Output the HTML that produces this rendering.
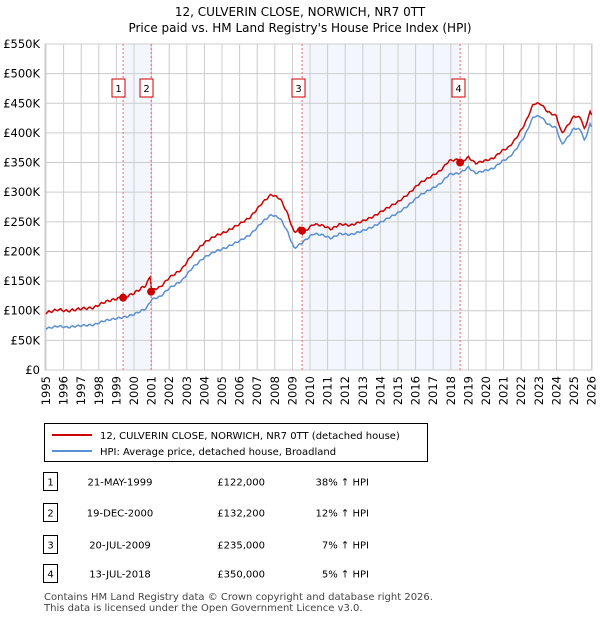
<!DOCTYPE html><html><head><style>
body{margin:0;background:#fff;font-family:"Liberation Sans","DejaVu Sans",sans-serif;}
</style></head><body>
<svg width="600" height="620" xmlns="http://www.w3.org/2000/svg" font-family="DejaVu Sans, Liberation Sans, sans-serif">
<text x="300" y="16" font-size="12" text-anchor="middle">12, CULVERIN CLOSE, NORWICH, NR7 0TT</text>
<text x="300" y="32" font-size="12" text-anchor="middle">Price paid vs. HM Land Registry's House Price Index (HPI)</text>
<g id="shade"></g>
<g id="grid" stroke="#ccc" stroke-width="1"></g>
<g id="labels" font-size="11.5"></g>
<g id="lines"></g>
<g id="legend">
<rect x="44.5" y="423.5" width="383" height="38" fill="#fff" stroke="#000"/>
<line x1="52" y1="435" x2="92" y2="435" stroke="#cc0000" stroke-width="2"/>
<text x="100" y="439" font-size="10">12, CULVERIN CLOSE, NORWICH, NR7 0TT (detached house)</text>
<line x1="52" y1="451" x2="92" y2="451" stroke="#5b8fd4" stroke-width="2"/>
<text x="100" y="455" font-size="10">HPI: Average price, detached house, Broadland</text>
</g>
<g font-size="10" id="table"></g>
<text x="44" y="600" font-size="10" fill="#444">Contains HM Land Registry data © Crown copyright and database right 2026.</text>
<text x="44" y="611" font-size="10" fill="#444">This data is licensed under the Open Government Licence v3.0.</text>
</svg>
<script>
const X0=46,PX=17.6,YB=370,PY=326/550;
const fx=y=>X0+(y-1995)*PX, fy=v=>YB-v*PY;
const ns="http://www.w3.org/2000/svg";
function el(p,t,a,txt){const e=document.createElementNS(ns,t);for(const k in a)e.setAttribute(k,a[k]);if(txt!=null)e.textContent=txt;document.getElementById(p).appendChild(e);return e;}
const sales=[[1999.38,122],[2000.97,132.2],[2009.55,235],[2018.53,350]];
el("shade","rect",{x:fx(sales[0][0]),y:44,width:fx(sales[1][0])-fx(sales[0][0]),height:326,fill:"#eef3fc",opacity:0.7});
el("shade","rect",{x:fx(sales[2][0]),y:44,width:fx(sales[3][0])-fx(sales[2][0]),height:326,fill:"#eef3fc",opacity:0.7});
for(let v=0;v<=550;v+=50){el("grid","line",{x1:45,x2:592,y1:fy(v),y2:fy(v)});
el("labels","text",{x:40,y:fy(v)+4,"text-anchor":"end"},v==0?"£0":"£"+v+"K");}
for(let y=1995;y<=2026;y++){el("grid","line",{x1:fx(y),x2:fx(y),y1:44,y2:370});
el("labels","text",{transform:`translate(${fx(y)+4},376) rotate(-90)`,"text-anchor":"end"},y);}
el("grid","rect",{x:45,y:44,width:547,height:326,fill:"none",stroke:"#ccc"});
const k=[[1995,70],[1995.7,74],[1996.2,72],[1997,75],[1997.7,76],[1998.3,83],[1999,87],[1999.6,90],[2000,94],[2000.7,104],[2001,119],[2001.5,124],[2002,138],[2002.7,150],[2003.3,172],[2004,190],[2004.6,200],[2005.2,206],[2006,218],[2006.6,228],[2007.3,250],[2007.8,262],[2008.3,256],[2008.7,235],[2009.1,205],[2009.6,216],[2010.2,230],[2010.7,228],[2011.2,222],[2011.7,230],[2012.3,228],[2013,235],[2013.6,242],[2014.3,254],[2015,265],[2015.6,278],[2016.2,294],[2016.8,304],[2017.4,314],[2017.9,330],[2018.5,332],[2019,342],[2019.4,332],[2019.9,336],[2020.4,340],[2020.9,352],[2021.3,358],[2021.7,372],[2022.2,395],[2022.7,428],[2023.1,428],[2023.5,415],[2024,408],[2024.3,380],[2024.7,395],[2025,408],[2025.4,405],[2025.6,385],[2025.9,415],[2026,410]];
function interp(t){for(let i=0;i<k.length-1;i++)if(t<=k[i+1][0]){const a=k[i],b=k[i+1],r=(t-a[0])/(b[0]-a[0]);return a[1]+r*(b[1]-a[1]);}return k[k.length-1][1];}
let hp="",rp="";
for(let t=1995;t<=2026.001;t+=1/12){let v=interp(t)+Math.sin(t*19)*1.5;
let f=t<sales[1][0]?1.38:t<sales[2][0]?1.13:t<sales[3][0]?1.07:1.05;
hp+=(hp?"L":"M")+fx(t).toFixed(1)+","+fy(v).toFixed(1);
rp+=(rp?"L":"M")+fx(t).toFixed(1)+","+fy(v*f).toFixed(1);}
el("lines","path",{d:hp,fill:"none",stroke:"#5b8fd4","stroke-width":1.5});
el("lines","path",{d:rp,fill:"none",stroke:"#cc0000","stroke-width":1.5});
const bxs=[112,140,292,452];
sales.forEach((s,i)=>{const x=fx(s[0]);
el("lines","line",{x1:x,x2:x,y1:44,y2:370,stroke:"#e66","stroke-dasharray":"2,2"});
el("lines","circle",{cx:x,cy:fy(s[1]),r:4,fill:"#cc0000"});
el("lines","rect",{x:bxs[i],y:79,width:13,height:18,fill:"#fff",stroke:"#cc0000"});
el("lines","text",{x:bxs[i]+6.5,y:92,"font-size":10,"text-anchor":"middle"},i+1);
});
const rows=[["21-MAY-1999","£122,000","38% ↑ HPI"],["19-DEC-2000","£132,200","12% ↑ HPI"],["20-JUL-2009","£235,000","7% ↑ HPI"],["13-JUL-2018","£350,000","5% ↑ HPI"]];
const ry=[482,513,545,574];
rows.forEach((r,i)=>{const y=ry[i];
el("table","rect",{x:43.5,y:y-9.5,width:14,height:18,fill:"#fff",stroke:"#000"});
el("table","text",{x:50.5,y:y+3.5,"text-anchor":"middle"},i+1);
el("table","text",{x:120,y:y+3.5,"text-anchor":"middle"},r[0]);
el("table","text",{x:265,y:y+3.5,"text-anchor":"end"},r[1]);
el("table","text",{x:369,y:y+3.5,"text-anchor":"end"},r[2]);});
</script></body></html>
